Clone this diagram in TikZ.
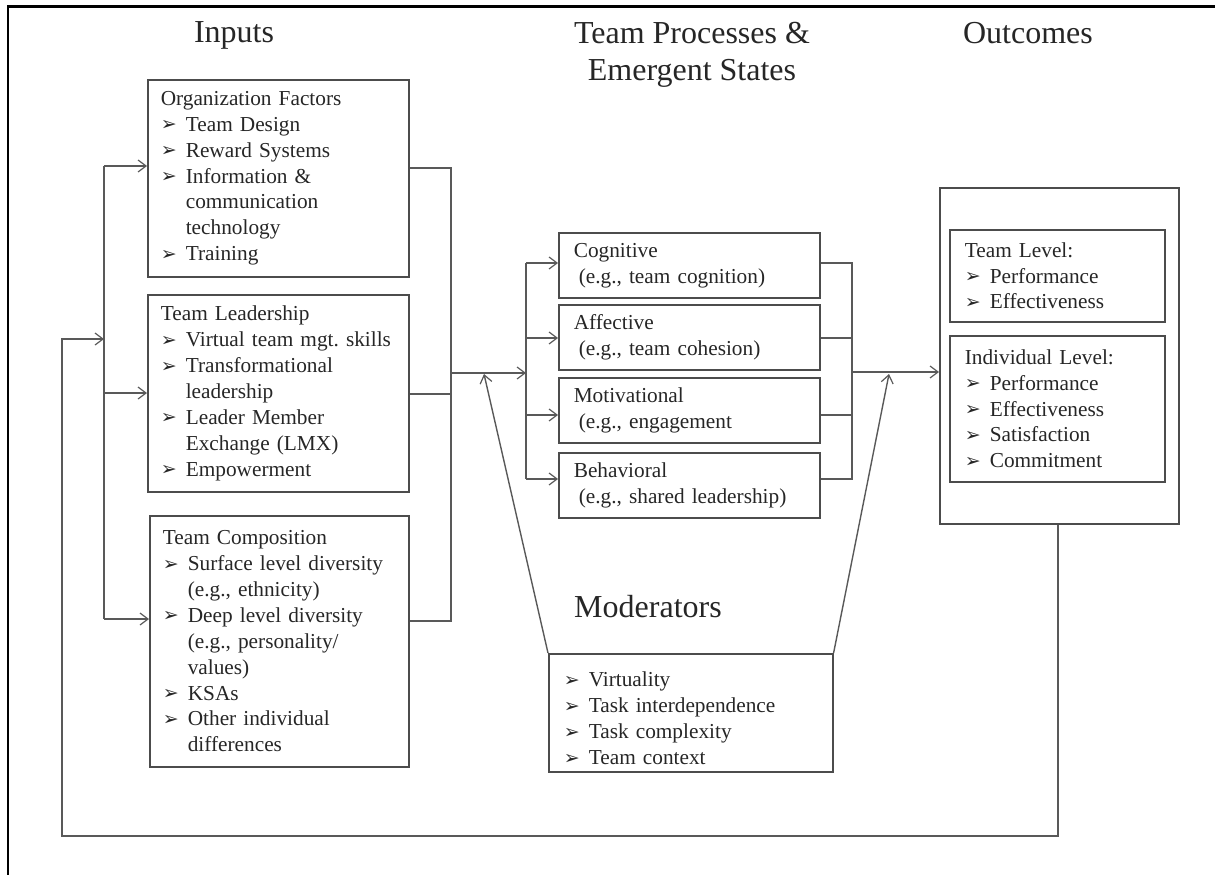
\documentclass[tikz,border=0pt]{standalone}
\usepackage{fontspec}
\setmainfont{Liberation Serif}
\newfontfamily\dingfont{DejaVu Sans}
\usetikzlibrary{arrows.meta}
\setlength\parindent{0pt}
\frenchspacing

% sizes of body and heading text
\newcommand\bodyfont{\fontsize{21.3}{25.9}\selectfont}
\newcommand\titlefont{\fontsize{32}{37}\selectfont}

% list item with an arrowhead bullet and a hanging indent
\newlength\bind
\setlength\bind{25pt}
\newcommand\arrowmark{\raisebox{0.5pt}{\dingfont\fontsize{19}{19}\selectfont ➢}}
\newcommand\bitem[1]{\par\noindent\hangindent=\bind\hangafter=1\makebox[\bind][l]{\arrowmark}#1\par}

\begin{document}
\begin{tikzpicture}[x=1pt,y=-1pt,
  box/.style={draw=black!70, line width=1.6pt, rectangle, anchor=north west,
    inner sep=0pt, align=left, text=black!85, font=\bodyfont},
  conn/.style={draw=black!65, line width=1.4pt},
  arr/.style={conn, -{Straight Barb[length=8pt,width=12pt,line width=1.2pt]}},
  title/.style={font=\titlefont, text=black!85, inner sep=0pt}
]
\useasboundingbox (0,0) rectangle (1215,875);

% page frame (top and left edges)
\draw[line width=2.2pt, black] (8,875) -- (8,6.5) -- (1215,6.5);

% column headings
\node[title, anchor=base] (hin) at (234,43) {Inputs};
\node[title, anchor=north, align=center] (hproc) at (692,22) {Team Processes \&\\Emergent States};
\node[title, anchor=base] (hout) at (1028,44) {Outcomes};
\node[title, anchor=base] (hmod) at (648,617) {Moderators};

% inputs
\node[box, minimum width=261pt, minimum height=197pt, text width=235pt] (org) at (147,79)
  {Organization Factors\bitem{Team Design}\bitem{Reward Systems}%
   \bitem{Information \&\newline communication\newline technology}\bitem{Training}};
\node[box, minimum width=261pt, minimum height=197pt, text width=235pt] (lead) at (147,294)
  {Team Leadership\bitem{Virtual team mgt. skills}\bitem{Transformational\newline leadership}%
   \bitem{Leader Member\newline Exchange (LMX)}\bitem{Empowerment}};
\node[box, minimum width=259pt, minimum height=251pt, text width=233pt] (comp) at (149,515)
  {Team Composition\bitem{Surface level diversity\newline (e.g., ethnicity)}%
   \bitem{Deep level diversity\newline (e.g., personality/\newline values)}%
   \bitem{KSAs}\bitem{Other individual\newline differences}};

% team processes and emergent states
\node[box, minimum width=261pt, minimum height=65pt, text width=231pt] (cog) at (558,232)
  {Cognitive\newline\hspace*{5pt}(e.g., team cognition)};
\node[box, minimum width=261pt, minimum height=65pt, text width=231pt] (aff) at (558,304)
  {Affective\newline\hspace*{5pt}(e.g., team cohesion)};
\node[box, minimum width=261pt, minimum height=65pt, text width=231pt] (mot) at (558,377)
  {Motivational\newline\hspace*{5pt}(e.g., engagement};
\node[box, minimum width=261pt, minimum height=65pt, text width=231pt] (beh) at (558,452)
  {Behavioral\newline\hspace*{5pt}(e.g., shared leadership)};

% outcomes
\node[box, minimum width=239pt, minimum height=336pt] (outc) at (939,187) {};
\node[box, minimum width=215pt, minimum height=92pt, text width=185pt] (tl) at (949,229)
  {Team Level:\bitem{Performance}\bitem{Effectiveness}};
\node[box, minimum width=215pt, minimum height=146pt, text width=185pt] (il) at (949,335)
  {Individual Level:\bitem{Performance}\bitem{Effectiveness}\bitem{Satisfaction}\bitem{Commitment}};

% moderators
\node[box, minimum width=284pt, minimum height=118pt, text width=254pt] (mod) at (548,653)
  {\bitem{Virtuality}\bitem{Task interdependence}\bitem{Task complexity}\bitem{Team context}};

% junction points of the connectors
\coordinate (lb1) at (104,166);
\coordinate (lb2) at (104,393);
\coordinate (lb3) at (104,619);
\coordinate (fbC) at (62,339);
\coordinate (fbB) at (62,836);
\coordinate (fbA) at (1058,836);
\coordinate (rb1) at (451,168);
\coordinate (rb2) at (451,394);
\coordinate (rb3) at (451,621);
\coordinate (rbJ) at (451,373);
\coordinate (mbJ) at (526,373);
\coordinate (mb1) at (526,263);
\coordinate (mb2) at (526,338);
\coordinate (mb3) at (526,415);
\coordinate (mb4) at (526,479);
\coordinate (pb1) at (852,263);
\coordinate (pb2) at (852,338);
\coordinate (pb3) at (852,415);
\coordinate (pb4) at (852,479);
\coordinate (pbJ) at (852,372);
\coordinate (mL) at (484,374);
\coordinate (mR) at (889,374);

% inputs fan-in
\draw[conn] (lb1) -- (lb3);
\draw[arr] (lb1) -- (lb1 -| org.west);
\draw[arr] (lb2) -- (lb2 -| lead.west);
\draw[arr] (lb3) -- (lb3 -| comp.west);

% feedback loop from outcomes back to inputs
\draw[arr] (fbA |- outc.south) -- (fbA) -- (fbB) -- (fbC) -- (fbC -| lb1);

% inputs to processes
\draw[conn] (rb1 -| org.east) -- (rb1) -- (rb3) -- (rb3 -| comp.east);
\draw[conn] (rb2 -| lead.east) -- (rb2);
\draw[arr] (rbJ) -- (mbJ);
\draw[conn] (mb1) -- (mb4);
\draw[arr] (mb1) -- (mb1 -| cog.west);
\draw[arr] (mb2) -- (mb2 -| aff.west);
\draw[arr] (mb3) -- (mb3 -| mot.west);
\draw[arr] (mb4) -- (mb4 -| beh.west);

% processes to outcomes
\draw[conn] (pb1 -| cog.east) -- (pb1) -- (pb4) -- (pb4 -| beh.east);
\draw[conn] (pb2 -| aff.east) -- (pb2);
\draw[conn] (pb3 -| mot.east) -- (pb3);
\draw[arr] (pbJ) -- (pbJ -| outc.west);

% moderating effects
\draw[arr] (mod.north west) -- (mL);
\draw[arr] (mod.north east) -- (mR);
\end{tikzpicture}
\end{document}
